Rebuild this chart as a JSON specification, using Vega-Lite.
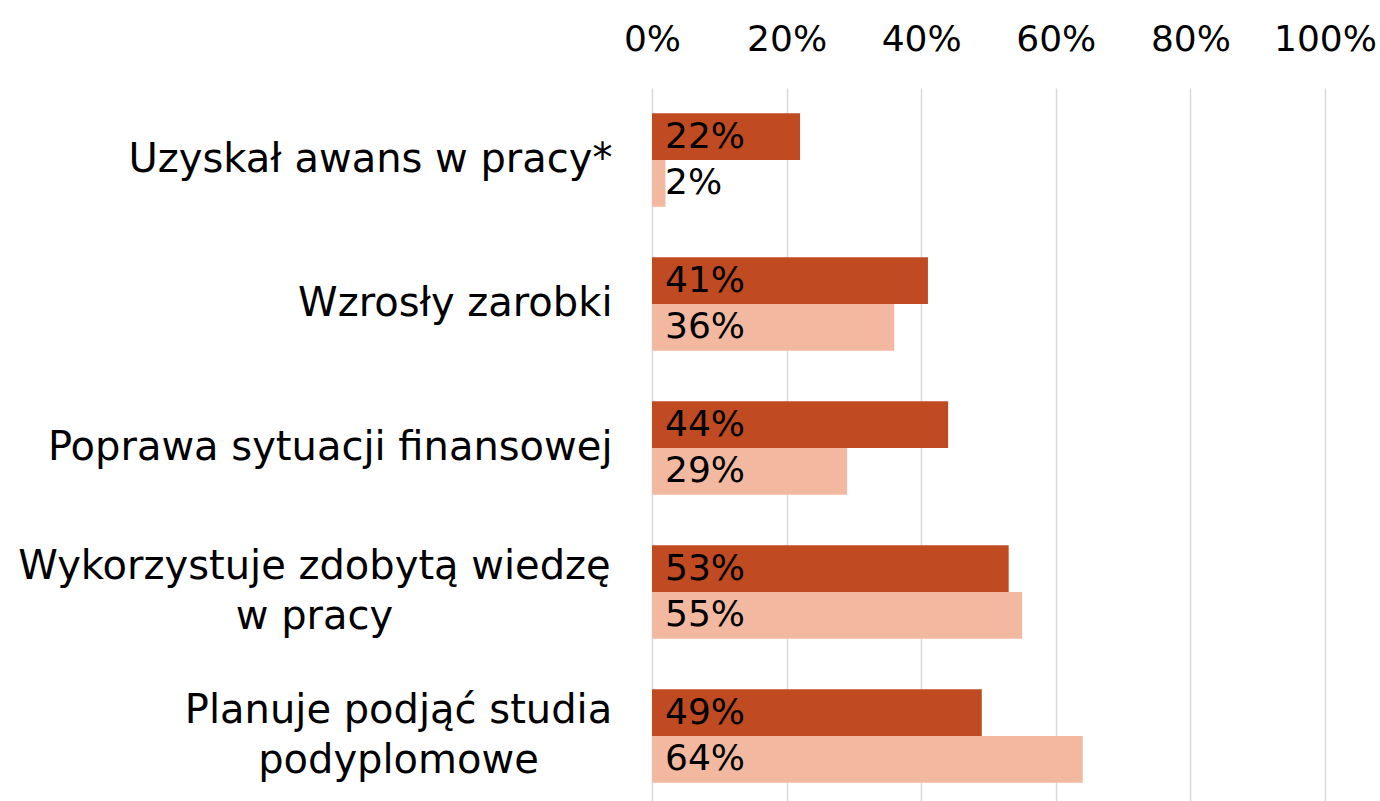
{
  "$schema": "https://vega.github.io/schema/vega-lite/v6.json",
  "width": 673,
  "height": 720,
  "autosize": {"type": "none"},
  "padding": {"left": 652, "top": 88, "right": 55, "bottom": 0},
  "background": "white",
  "config": {
    "view": {"stroke": null},
    "font": "DejaVu Sans"
  },
  "data": {
    "values": [
      {"kategoria": "Uzyskał awans w pracy*", "seria": "seria1", "wartosc": 0.22},
      {"kategoria": "Uzyskał awans w pracy*", "seria": "seria2", "wartosc": 0.02},
      {"kategoria": "Wzrosły zarobki", "seria": "seria1", "wartosc": 0.41},
      {"kategoria": "Wzrosły zarobki", "seria": "seria2", "wartosc": 0.36},
      {"kategoria": "Poprawa sytuacji finansowej", "seria": "seria1", "wartosc": 0.44},
      {"kategoria": "Poprawa sytuacji finansowej", "seria": "seria2", "wartosc": 0.29},
      {"kategoria": "Wykorzystuje zdobytą wiedzę|w pracy", "seria": "seria1", "wartosc": 0.53},
      {"kategoria": "Wykorzystuje zdobytą wiedzę|w pracy", "seria": "seria2", "wartosc": 0.55},
      {"kategoria": "Planuje podjąć studia|podyplomowe", "seria": "seria1", "wartosc": 0.49},
      {"kategoria": "Planuje podjąć studia|podyplomowe", "seria": "seria2", "wartosc": 0.64}
    ]
  },
  "encoding": {
    "y": {
      "field": "kategoria",
      "type": "nominal",
      "sort": null,
      "title": null,
      "scale": {"paddingInner": 0.35, "paddingOuter": 0.175},
      "axis": {
        "orient": "left",
        "labelExpr": "split(datum.label, '|')",
        "labelFontSize": 40,
        "labelColor": "#000000",
        "labelLineHeight": 50,
        "labelLimit": 700,
        "labelBaseline": "middle",
        "labelAlign": {
          "condition": {"test": "indexof(datum.value, '|') >= 0", "value": "center"},
          "value": "right"
        },
        "labelPadding": {
          "condition": [
            {"test": "datum.value == 'Wykorzystuje zdobytą wiedzę|w pracy'", "value": 338},
            {"test": "datum.value == 'Planuje podjąć studia|podyplomowe'", "value": 254}
          ],
          "value": 40
        },
        "labelOffset": {
          "condition": {"test": "indexof(datum.value, '|') >= 0", "value": -25},
          "value": 0
        },
        "ticks": false,
        "domain": false,
        "grid": false
      }
    },
    "yOffset": {
      "field": "seria",
      "type": "nominal",
      "sort": ["seria1", "seria2"],
      "scale": {"paddingInner": 0, "paddingOuter": 0}
    }
  },
  "layer": [
    {
      "mark": {"type": "bar"},
      "encoding": {
        "x": {
          "field": "wartosc",
          "type": "quantitative",
          "scale": {"domain": [0, 1]},
          "title": null,
          "axis": {
            "orient": "top",
            "format": ".0%",
            "values": [0, 0.2, 0.4, 0.6, 0.8, 1],
            "labelFontSize": 36,
            "labelColor": "#000000",
            "labelPadding": 30,
            "labelOverlap": false,
            "labelFlush": false,
            "ticks": false,
            "domain": false,
            "grid": true,
            "gridColor": "#d9d9d9",
            "gridWidth": 1.5
          }
        },
        "color": {
          "field": "seria",
          "type": "nominal",
          "scale": {"domain": ["seria1", "seria2"], "range": ["#C04A22", "#F2B9A0"]},
          "legend": null
        }
      }
    },
    {
      "mark": {"type": "text", "align": "left", "baseline": "middle", "dx": 13, "fontSize": 36, "color": "#000000"},
      "encoding": {
        "x": {"datum": 0, "type": "quantitative"},
        "text": {"field": "wartosc", "type": "quantitative", "format": ".0%"}
      }
    }
  ]
}
